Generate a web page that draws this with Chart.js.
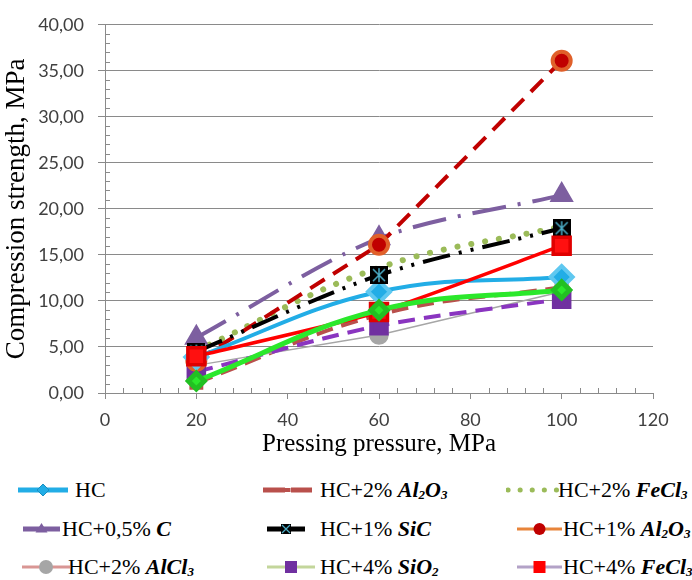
<!DOCTYPE html>
<html>
<head>
<meta charset="utf-8">
<script src="https://cdn.jsdelivr.net/npm/chart.js@4.4.1/dist/chart.umd.min.js"></script>
<style>
  body { margin: 0; background: #fff; }
  #wrap { position: relative; width: 692px; height: 580px; overflow: hidden; }
  #chart { position: absolute; left: 0; top: 0; }
  .leg { position: absolute; height: 26px; }
  .leg svg { position: absolute; top: 0; }
  .leg span { position: absolute; top: 0; line-height: 26px; white-space: nowrap;
    font-family: "Liberation Serif", "Times New Roman", serif; font-size: 22px; color: #000; }
  .leg b { font-style: italic; }
  .leg sub { font-size: 13px; vertical-align: -2px; line-height: 0; }
</style>
</head>
<body>
<div id="wrap">
  <canvas id="chart" width="692" height="460"></canvas>
  <div id="legend"></div>
</div>
<script>
// --- Data ---
const pressure = [20, 60, 100];

const hc        = [3.9, 11.0, 12.6];
const al2o3_2   = [1.1, 8.5, 11.5];
const fecl3_2   = [4.6, 13.6, 18.1];
const c_05      = [6.0, 16.8, 21.5];
const sic_1     = [4.5, 12.8, 17.9];
const al2o3_1   = [3.5, 16.1, 36.1];
const alcl3_2   = [3.0, 6.3, 11.0];
const sio2_4    = [2.3, 7.3, 10.2];
const fecl3_4   = [4.0, 8.8, 16.0];
const extra     = [1.3, 9.0, 11.2];   // green curve with no legend entry

const xTickValues = [0, 20, 40, 60, 80, 100, 120];
const yTickValues = [0, 5, 10, 15, 20, 25, 30, 35, 40];

const pts = arr => arr.map((v, i) => ({ x: pressure[i], y: v }));

// SiC marker: black square with a cyan cross
function sicMarker(size) {
  const c = document.createElement('canvas');
  c.width = size; c.height = size;
  const g = c.getContext('2d');
  g.fillStyle = '#000';
  g.fillRect(0, 0, size, size);
  g.strokeStyle = '#4bacc6';
  g.lineWidth = 1.5;
  g.beginPath();
  g.moveTo(3, 3); g.lineTo(size - 3, size - 3);
  g.moveTo(size - 3, 3); g.lineTo(3, size - 3);
  g.moveTo(size / 2, 2); g.lineTo(size / 2, size - 2);
  g.stroke();
  return c;
}

const gridColor = '#8a8a8a';

// minor ticks like the spreadsheet axis
const minorTicks = {
  id: 'minorTicks',
  beforeDatasetsDraw(chart) {
    const { ctx, scales: { x, y } } = chart;
    ctx.save();
    ctx.strokeStyle = gridColor;
    ctx.lineWidth = 1;
    ctx.beginPath();
    for (let v = 1; v < 40; v++) {
      if (v % 5 === 0) continue;
      const py = Math.round(y.getPixelForValue(v)) + 0.5;
      ctx.moveTo(x.left, py); ctx.lineTo(x.left + 5, py);
    }
    for (let v = 4; v < 120; v += 4) {
      if (v % 20 === 0) continue;
      const px = Math.round(x.getPixelForValue(v)) + 0.5;
      ctx.moveTo(px, y.bottom); ctx.lineTo(px, y.bottom - 5);
    }
    ctx.stroke();
    ctx.restore();
  }
};

Chart.defaults.font.family = 'Lato';

// first dataset is drawn on top
const datasets = [
  { label: 'extra', data: pts(extra), borderColor: '#2be82b', borderWidth: 5, tension: 0.4,
    pointStyle: 'rectRot', pointRadius: 8, pointBackgroundColor: '#2be82b', pointBorderColor: '#22c022' },
  { label: 'HC+4% FeCl3', data: pts(fecl3_4), borderColor: '#ff0000', borderWidth: 3.5, tension: 0.2,
    pointStyle: 'rect', pointRadius: 12, pointBackgroundColor: '#ff1010', pointBorderColor: '#e00000' },
  { label: 'HC+1% SiC', data: pts(sic_1), borderColor: '#000', borderWidth: 4, tension: 0.3,
    borderDash: [28, 9, 3, 9, 3, 9], pointStyle: sicMarker(18), pointRadius: 9 },
  { label: 'HC', data: pts(hc), borderColor: '#22ade6', borderWidth: 4, tension: 0.4,
    pointStyle: 'rectRot', pointRadius: 11, pointBackgroundColor: '#22ade6', pointBorderColor: '#5fc8f0' },
  { label: 'HC+1% Al2O3', data: pts(al2o3_1), borderColor: '#c00000', borderWidth: 4, tension: 0,
    borderDash: [17, 10], pointStyle: 'circle', pointRadius: 9, pointBackgroundColor: '#c00000', pointBorderColor: '#e0602a' },
  { label: 'HC+0,5% C', data: pts(c_05), borderColor: '#7d5fa0', borderWidth: 4, tension: 0.3,
    borderDash: [34, 12, 3, 12], pointStyle: 'triangle', pointRadius: 10, pointBackgroundColor: '#7d5fa0', pointBorderColor: '#7d5fa0' },
  { label: 'HC+2% FeCl3', data: pts(fecl3_2), borderColor: '#9bbb59', borderWidth: 6, tension: 0.4,
    borderDash: [0.1, 14], borderCapStyle: 'round', pointRadius: 0 },
  { label: 'HC+4% SiO2', data: pts(sio2_4), borderColor: '#8a35c0', borderWidth: 4, tension: 0.3,
    borderDash: [17, 9], pointStyle: 'rect', pointRadius: 11, pointBackgroundColor: '#7030a0', pointBorderColor: '#7030a0' },
  { label: 'HC+2% AlCl3', data: pts(alcl3_2), borderColor: '#a6a6a6', borderWidth: 1.5, tension: 0,
    pointStyle: 'circle', pointRadius: 9, pointBackgroundColor: '#a6a6a6', pointBorderColor: '#a6a6a6' },
  { label: 'HC+2% Al2O3', data: pts(al2o3_2), borderColor: '#b9504c', borderWidth: 4, tension: 0.4,
    borderDash: [17, 9], pointStyle: 'rect', pointRadius: 7, pointBackgroundColor: '#b9504c', pointBorderColor: '#b9504c' }
];
datasets.forEach(d => { d.fill = false; d.pointHoverRadius = d.pointRadius; });

new Chart(document.getElementById('chart'), {
  type: 'line',
  data: { datasets },
  options: {
    responsive: false,
    animation: false,
    layout: { padding: { left: 0, right: 39, top: 17, bottom: 0 } },
    plugins: { legend: { display: false }, tooltip: { enabled: false } },
    scales: {
      x: {
        type: 'linear', min: 0, max: 120,
        afterBuildTicks: s => { s.ticks = xTickValues.map(v => ({ value: v })); },
        afterFit: s => { s.height = 67; },
        grid: { drawOnChartArea: false, color: gridColor, tickLength: 6 },
        border: { color: gridColor },
        ticks: { color: '#404040', font: { size: 18 }, padding: 10, maxRotation: 0 },
        title: { display: true, text: 'Pressing pressure, MPa', color: '#000',
          font: { family: 'Liberation Serif', size: 25 }, padding: { top: 0, bottom: 1 } }
      },
      y: {
        min: 0, max: 40,
        afterBuildTicks: s => { s.ticks = yTickValues.map(v => ({ value: v })); },
        afterFit: s => { s.width = 105; },
        grid: { color: gridColor, tickLength: 7 },
        border: { color: gridColor },
        ticks: { color: '#404040', font: { size: 18 }, padding: 14,
          callback: v => v.toFixed(2).replace('.', ',') },
        title: { display: true, text: 'Compression strength, MPa', color: '#000',
          font: { family: 'Liberation Serif', size: 27 }, padding: { top: 1, bottom: 0 } }
      }
    }
  },
  plugins: [minorTicks]
});

// --- Legend (HTML, mixed fonts) ---
const legendItems = [
  { x0: 18, x1: 68, tx: 75, row: 0, text: 'HC', line: '#22ade6', w: 5, mark: 'diamond', mc: '#22ade6', ms: 6 },
  { x0: 263, x1: 312, tx: 320, row: 0, text: 'HC+2% <b>Al<sub>2</sub>O<sub>3</sub></b>', line: '#b9504c', w: 5, dash: '22 6', mark: 'dash', mc: '#b9504c', ms: 5 },
  { x0: 508, x1: 557, tx: 558, row: 0, text: 'HC+2% <b>FeCl<sub>3</sub></b>', line: '#9bbb59', w: 5, dash: '0.1 12', cap: 'round' },
  { x0: 23, x1: 60, tx: 62, row: 1, text: 'HC+0,5% <b>C</b>', line: '#7d5fa0', w: 5, mark: 'triangle', mc: '#7d5fa0', ms: 6 },
  { x0: 267, x1: 305, tx: 320, row: 1, text: 'HC+1% <b>SiC</b>', line: '#000', w: 5, mark: 'sic', mc: '#000', ms: 5 },
  { x0: 517, x1: 562, tx: 563, row: 1, text: 'HC+1% <b>Al<sub>2</sub>O<sub>3</sub></b>', line: '#e8843a', w: 3, mark: 'circle', mc: '#c00000', ms: 6 },
  { x0: 22, x1: 70, tx: 68, row: 2, text: 'HC+2% <b>AlCl<sub>3</sub></b>', line: '#d99694', w: 3, mark: 'circle', mc: '#a6a6a6', ms: 7 },
  { x0: 267, x1: 315, tx: 320, row: 2, text: 'HC+4% <b>SiO<sub>2</sub></b>', line: '#c3d69b', w: 3, mark: 'square', mc: '#7030a0', ms: 6 },
  { x0: 517, x1: 562, tx: 563, row: 2, text: 'HC+4% <b>FeCl<sub>3</sub></b>', line: '#b3a2c7', w: 3, mark: 'square', mc: '#ff0000', ms: 6 }
];
const rowY = [490, 529, 567];

function markerSvg(it, cx, cy) {
  const s = it.ms, c = it.mc;
  switch (it.mark) {
    case 'diamond': return `<polygon points="${cx},${cy - s} ${cx + s},${cy} ${cx},${cy + s} ${cx - s},${cy}" fill="${c}" stroke="#1a8fc0"/>`;
    case 'triangle': return `<polygon points="${cx},${cy - s} ${cx + s},${cy + s * 0.6} ${cx - s},${cy + s * 0.6}" fill="${c}"/>`;
    case 'circle': return `<circle cx="${cx}" cy="${cy}" r="${s}" fill="${c}"/>`;
    case 'square': return `<rect x="${cx - s}" y="${cy - s}" width="${2 * s}" height="${2 * s}" fill="${c}"/>`;
    case 'dash': return `<rect x="${cx - 3}" y="${cy - 2}" width="6" height="4" fill="${c}"/>`;
    case 'sic': return `<rect x="${cx - s}" y="${cy - s}" width="${2 * s}" height="${2 * s}" fill="#000"/>` +
      `<path d="M${cx - s + 1},${cy - s + 1} L${cx + s - 1},${cy + s - 1} M${cx + s - 1},${cy - s + 1} L${cx - s + 1},${cy + s - 1}" stroke="#4bacc6" stroke-width="1.2"/>`;
  }
  return '';
}

const legendEl = document.getElementById('legend');
legendItems.forEach(it => {
  const w = it.x1 - it.x0 + 4;
  const div = document.createElement('div');
  div.className = 'leg';
  div.style.left = '0px';
  div.style.top = (rowY[it.row] - 13) + 'px';
  const cy = 13;
  const svg = `<svg width="${w}" height="26" style="left:${it.x0 - 2}px">
    <line x1="2" y1="${cy}" x2="${w - 2}" y2="${cy}" stroke="${it.line}" stroke-width="${it.w}"
      ${it.dash ? `stroke-dasharray="${it.dash}"` : ''} stroke-linecap="${it.cap || 'butt'}"/>
    ${it.mark ? markerSvg(it, w / 2, cy) : ''}
  </svg>`;
  div.innerHTML = svg + `<span style="left:${it.tx}px">${it.text}</span>`;
  legendEl.appendChild(div);
});
</script>
</body>
</html>
